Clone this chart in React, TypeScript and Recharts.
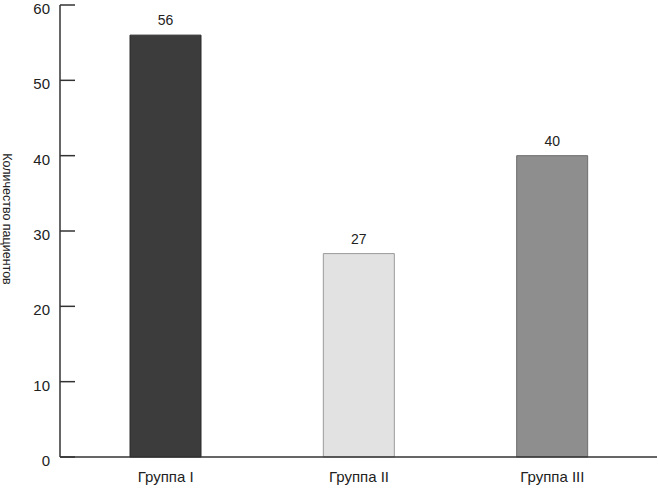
import { BarChart, Bar, XAxis, YAxis, Cell, LabelList, Label } from "recharts";

const groups = ["Группа I", "Группа II", "Группа III"];
const patients = [56, 27, 40];
const yTicks = [0, 10, 20, 30, 40, 50, 60];

const FILLS = ["#3c3c3c", "#e2e2e2", "#8e8e8e"];
const STROKES = ["#2a2a2a", "#9a9a9a", "#6e6e6e"];
const FONT = "'Liberation Sans Narrow', 'Liberation Sans', Arial, sans-serif";

const TICK_MARGIN = 10;

function YTick(props: any) {
  const { x, y, payload } = props;
  const axisX = x + TICK_MARGIN;
  return (
    <g>
      <line x1={axisX} x2={axisX + 15} y1={y} y2={y} stroke="#333" strokeWidth={1.5} />
      <text x={x} y={y} dy={9} textAnchor="end" fill="#222" fontSize={15} fontFamily={FONT}>
        {payload.value}
      </text>
    </g>
  );
}

export default function App() {
  const data = groups.map((g, i) => ({ name: g, value: patients[i] }));

  return (
    <div style={{ position: "absolute", left: 0, top: 0, background: "#fff" }}>
      <BarChart
        width={658}
        height={489}
        data={data}
        margin={{ top: 5, right: 1, bottom: 0, left: 0 }}
        barSize={71}
      >
        <XAxis
          dataKey="name"
          height={32}
          padding={{ left: 9, right: 8 }}
          axisLine={{ stroke: "#333", strokeWidth: 1.5 }}
          tickLine={false}
          tickMargin={8}
          tick={{ fill: "#222", fontSize: 15, fontFamily: FONT }}
        />
        <YAxis
          width={60}
          domain={[0, 60]}
          ticks={yTicks}
          interval={0}
          axisLine={{ stroke: "#333", strokeWidth: 1.5 }}
          tickLine={false}
          tickSize={0}
          tickMargin={TICK_MARGIN}
          tick={<YTick />}
        >
          <Label
            value="Количество пациентов"
            angle={90}
            position="insideLeft"
            offset={0}
            dx={7}
            dy={-12}
            style={{ fill: "#222", fontSize: 12.5, fontFamily: FONT, textAnchor: "middle" }}
          />
        </YAxis>
        <Bar dataKey="value" isAnimationActive={false} strokeWidth={1}>
          {data.map((_, i) => (
            <Cell key={i} fill={FILLS[i]} stroke={STROKES[i]} />
          ))}
          <LabelList
            dataKey="value"
            position="top"
            offset={10}
            style={{ fill: "#222", fontSize: 14, fontFamily: FONT }}
          />
        </Bar>
      </BarChart>
    </div>
  );
}
